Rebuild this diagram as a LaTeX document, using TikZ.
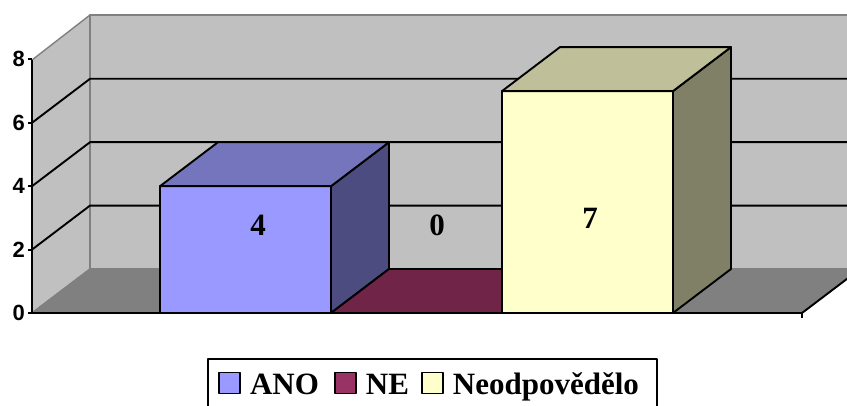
\documentclass[tikz,border=0pt]{standalone}
\usepackage{fontspec}
\setmainfont{Liberation Serif}
\newfontfamily\axisfont{Liberation Sans}
\usetikzlibrary{positioning}

\definecolor{wallgray}{HTML}{C0C0C0}
\definecolor{floorgray}{HTML}{808080}
\definecolor{anofront}{HTML}{9999FF}
\definecolor{anotop}{HTML}{7575BD}
\definecolor{anoside}{HTML}{4C4C80}
\definecolor{nefront}{HTML}{993366}
\definecolor{netop}{HTML}{702448}
\definecolor{neofront}{HTML}{FFFFCC}
\definecolor{neotop}{HTML}{BFBF99}
\definecolor{neoside}{HTML}{808066}

\begin{document}
\begin{tikzpicture}[x=1pt,y=-1pt,line join=round,
  wall/.style={fill=wallgray,draw=floorgray,line width=1.4pt},
  grid/.style={draw=black,line width=1.9pt},
  bar/.style={draw=black,line width=1.9pt},
  val/.style={font=\bfseries\fontsize{31}{31}\selectfont},
  tick/.style={font=\axisfont\bfseries\fontsize{22}{22}\selectfont,anchor=east,inner sep=0pt},
  key/.style={draw=black,line width=1.6pt,minimum size=21pt,inner sep=0pt},
  keytext/.style={font=\bfseries\fontsize{31}{31}\selectfont,inner sep=0pt,
    text height=30pt,text depth=6pt}]
\useasboundingbox (0,0) rectangle (847,406);
\clip (0,0) rectangle (847,406);

% walls and floor
\path[wall] (32,313) -- (90,269) -- (90,15) -- (32,60) -- cycle;
\path[wall] (90,269) rectangle (860,15);
\path[wall,fill=floorgray] (32,313) -- (90,269) -- (860,269) -- (802,313) -- cycle;

% grid lines
\foreach \v in {2,4,6}
  \draw[grid] (32,313-31.7*\v) -- (90,269-31.7*\v) -- (860,269-31.7*\v);

% axes
\draw[grid] (32,313) -- (32,60);
\draw[grid] (32,313) -- (802,313) -- (860,269);
\draw[grid] (802,313) -- (802,318);
\foreach \v in {0,2,4,6,8} {
  \draw[grid] (28,313-31.7*\v) -- (32,313-31.7*\v);
  \node[tick] (y\v) at (25,313-31.7*\v) {\v};
}

% bars
\foreach \x/\h/\fr/\tp/\sd in {160/4/anofront/anotop/anoside,
                              331/0/nefront/netop/netop,
                              502/7/neofront/neotop/neoside} {
  \ifnum\h>0
    \draw[bar,fill=\fr] (\x,313) rectangle (\x+171,313-31.7*\h);
    \draw[bar,fill=\sd] (\x+171,313) -- (\x+171,313-31.7*\h) -- ++(58,-44)
      -- (\x+229,269) -- cycle;
  \fi
  \draw[bar,fill=\tp] (\x,313-31.7*\h) -- ++(58,-44) -- ++(171,0)
    -- ++(-58,44) -- cycle;
}

% values
\node[val] (vano) at (258,225) {4};
\node[val] (vne) at (437,225) {0};
\node[val] (vneo) at (590,218) {7};

% legend
\draw[line width=1.8pt,fill=white] (208,359) rectangle (657,430);
\node[key,fill=anofront] (kano) at (229.5,383) {};
\node[keytext,right=9pt of kano] (tano) {ANO};
\node[key,fill=nefront,right=15pt of tano] (kne) {};
\node[keytext,right=9pt of kne] (tne) {NE};
\node[key,fill=neofront,right=12pt of tne] (kneo) {};
\node[keytext,right=9pt of kneo] (tneo) {Neodpovědělo};
\end{tikzpicture}
\end{document}
